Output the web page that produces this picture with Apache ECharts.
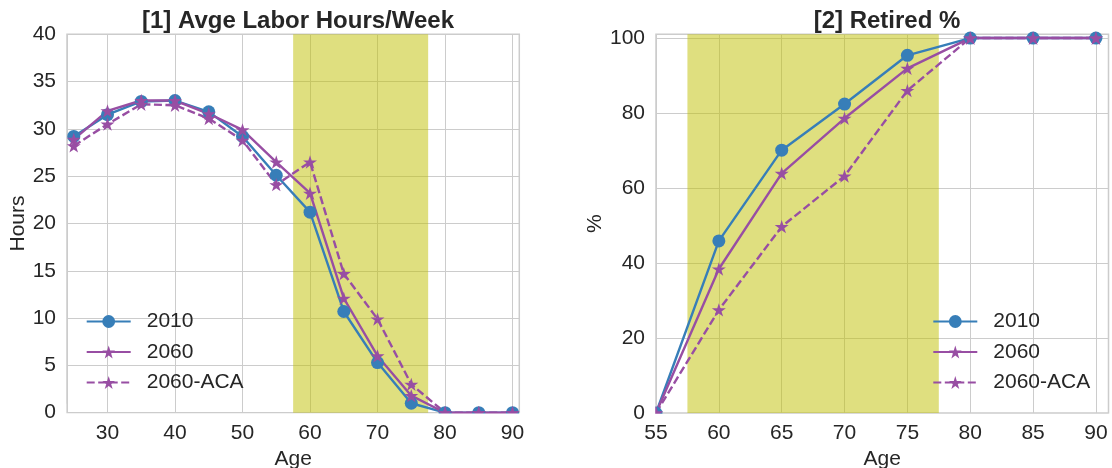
<!DOCTYPE html>
<html>
<head>
<meta charset="utf-8">
<script src="https://cdn.jsdelivr.net/npm/echarts@6/dist/echarts.min.js"></script>
<style>
  html, body { margin: 0; padding: 0; background: #fff; }
  #chart { width: 1112px; height: 468px; }
</style>
</head>
<body>
<div id="chart"></div>
<script>
// Panel 1: average labor hours per week by age
const agesHours = [25, 30, 35, 40, 45, 50, 55, 60, 65, 70, 75, 80, 85, 90];
const hours2010 = [29.2, 31.5, 32.9, 33.0, 31.8, 29.2, 25.1, 21.2, 10.7, 5.3, 1.0, 0, 0, 0];
const hours2060 = [28.9, 31.9, 33.0, 33.0, 31.6, 29.9, 26.5, 23.2, 12.1, 6.0, 1.8, 0, 0, 0];
const hours2060ACA = [28.2, 30.5, 32.6, 32.5, 31.1, 28.8, 24.1, 26.5, 14.7, 9.9, 3.0, 0, 0, 0];

// Panel 2: share retired by age (%)
const agesRetired = [55, 60, 65, 70, 75, 80, 85, 90];
const retired2010 = [0, 45.9, 70.1, 82.4, 95.4, 100, 100, 100];
const retired2060 = [0, 38.4, 63.9, 78.6, 91.9, 100, 100, 100];
const retired2060ACA = [0, 27.5, 49.7, 63.2, 86.0, 100, 100, 100];

// Highlighted age band
const bandAges = [57.5, 77.5];

const seriesNames = ['2010', '2060', '2060-ACA'];
const panelTitles = ['[1] Avge Labor Hours/Week', '[2] Retired %'];

const FONT = '"Liberation Sans", Arial, sans-serif';
const TEXT = '#262626';
const GRID = '#cccccc';
const BLUE = '#377eb8';
const PURPLE = '#984ea3';
const STAR = 'path://M50 0L61.23 34.55L97.55 34.55L68.16 55.9L79.39 90.45L50 69.1L20.61 90.45L31.84 55.9L2.45 34.55L38.77 34.55Z';

const pairs = (xs, ys) => xs.map((x, i) => [x, ys[i]]);

function makeSeries(idx, xs, ys, name, color, symbol, size, dashed, withBand) {
  const s = {
    name: name,
    type: 'line',
    xAxisIndex: idx,
    yAxisIndex: idx,
    data: pairs(xs, ys),
    symbol: symbol,
    symbolSize: size,
    symbolKeepAspect: true,
    showAllSymbol: true,
    clip: true,
    color: color,
    itemStyle: { color: color, borderWidth: 0 },
    lineStyle: { color: color, width: 2.4, type: dashed ? [8, 3.5] : 'solid' },
    emphasis: { disabled: true },
    animation: false,
    z: 3
  };
  if (withBand) {
    s.markArea = {
      silent: true,
      itemStyle: { color: 'rgba(191,191,0,0.5)' },
      data: [[{ xAxis: bandAges[0] }, { xAxis: bandAges[1] }]],
      z: 1
    };
  }
  return s;
}

function valueAxisX(idx, min, max, extra) {
  return Object.assign({
    type: 'value',
    gridIndex: idx,
    min: min,
    max: max,
    name: 'Age',
    nameLocation: 'middle',
    nameGap: 27,
    nameTextStyle: { fontFamily: FONT, fontSize: 21, color: TEXT },
    axisLine: { show: false },
    axisTick: { show: false },
    axisLabel: { fontFamily: FONT, fontSize: 21, color: TEXT, margin: 10, showMinLabel: idx === 1, showMaxLabel: false },
    splitLine: { show: true, lineStyle: { color: GRID, width: 1 } }
  }, extra);
}

function valueAxisY(idx, max, interval, name, gap) {
  return {
    type: 'value',
    gridIndex: idx,
    min: 0,
    max: max,
    interval: interval,
    name: name,
    nameLocation: 'middle',
    nameGap: gap,
    nameTextStyle: { fontFamily: FONT, fontSize: 21, color: TEXT },
    axisLine: { show: false },
    axisTick: { show: false },
    axisLabel: { fontFamily: FONT, fontSize: 21, color: TEXT, margin: 11, showMaxLabel: max % interval === 0 },
    splitLine: { show: true, lineStyle: { color: GRID, width: 1 } }
  };
}

function legendAt(left) {
  return {
    left: left,
    top: 311,
    padding: 0,
    orient: 'vertical',
    itemWidth: 44,
    itemHeight: 16,
    itemGap: 9.5,
    data: seriesNames,
    selectedMode: false,
    textStyle: { fontFamily: FONT, fontSize: 21, color: TEXT, lineHeight: 21, padding: [0, 0, 0, 11] }
  };
}

const chart = echarts.init(document.getElementById('chart'), null, { renderer: 'canvas' });

chart.setOption({
  backgroundColor: '#ffffff',
  animation: false,
  title: [
    { text: panelTitles[0], left: 293, top: 4, textAlign: 'center',
      textStyle: { fontFamily: FONT, fontSize: 24, fontWeight: 'bold', color: TEXT } },
    { text: panelTitles[1], left: 882, top: 4, textAlign: 'center',
      textStyle: { fontFamily: FONT, fontSize: 24, fontWeight: 'bold', color: TEXT } }
  ],
  grid: [
    { left: 67, top: 34.3, width: 452.3, height: 378.4, show: true, borderColor: GRID, borderWidth: 1.5,
      backgroundColor: 'transparent', containLabel: false, outerBoundsMode: 'none' },
    { left: 656, top: 34.3, width: 452.5, height: 378.7, show: true, borderColor: GRID, borderWidth: 1.5,
      backgroundColor: 'transparent', containLabel: false, outerBoundsMode: 'none' }
  ],
  xAxis: [
    valueAxisX(0, 24, 91, { splitNumber: 6 }),
    valueAxisX(1, 55, 91, { interval: 5 })
  ],
  yAxis: [
    valueAxisY(0, 40, 5, 'Hours', 31),
    valueAxisY(1, 101, 20, '%', 50)
  ],
  legend: [legendAt(85.7), legendAt(932.3)],
  series: [
    makeSeries(0, agesHours, hours2010, seriesNames[0], BLUE, 'circle', 13, false, true),
    makeSeries(0, agesHours, hours2060, seriesNames[1], PURPLE, STAR, 14, false, false),
    makeSeries(0, agesHours, hours2060ACA, seriesNames[2], PURPLE, STAR, 14, true, false),
    makeSeries(1, agesRetired, retired2010, seriesNames[0], BLUE, 'circle', 13, false, true),
    makeSeries(1, agesRetired, retired2060, seriesNames[1], PURPLE, STAR, 14, false, false),
    makeSeries(1, agesRetired, retired2060ACA, seriesNames[2], PURPLE, STAR, 14, true, false)
  ]
});

// Markers sitting on the frame are clipped to the plotting area:
// white strips just outside each frame hide the overflowing halves.
function frameRect(gridIndex) {
  const model = chart.getModel().getComponent('grid', gridIndex);
  return model.coordinateSystem.getRect();
}
const masks = [];
[0, 1].forEach(function (g) {
  const r = frameRect(g);
  const bottom = r.y + r.height;
  masks.push({ type: 'rect', z: 50, silent: true,
    shape: { x: r.x - 9, y: bottom + 0.8, width: r.width + 18, height: 8 },
    style: { fill: '#ffffff' } });
  masks.push({ type: 'rect', z: 50, silent: true,
    shape: { x: r.x - 8, y: bottom - 9, width: 7.2, height: 17 },
    style: { fill: '#ffffff' } });
});
chart.setOption({ graphic: masks });
</script>
</body>
</html>
